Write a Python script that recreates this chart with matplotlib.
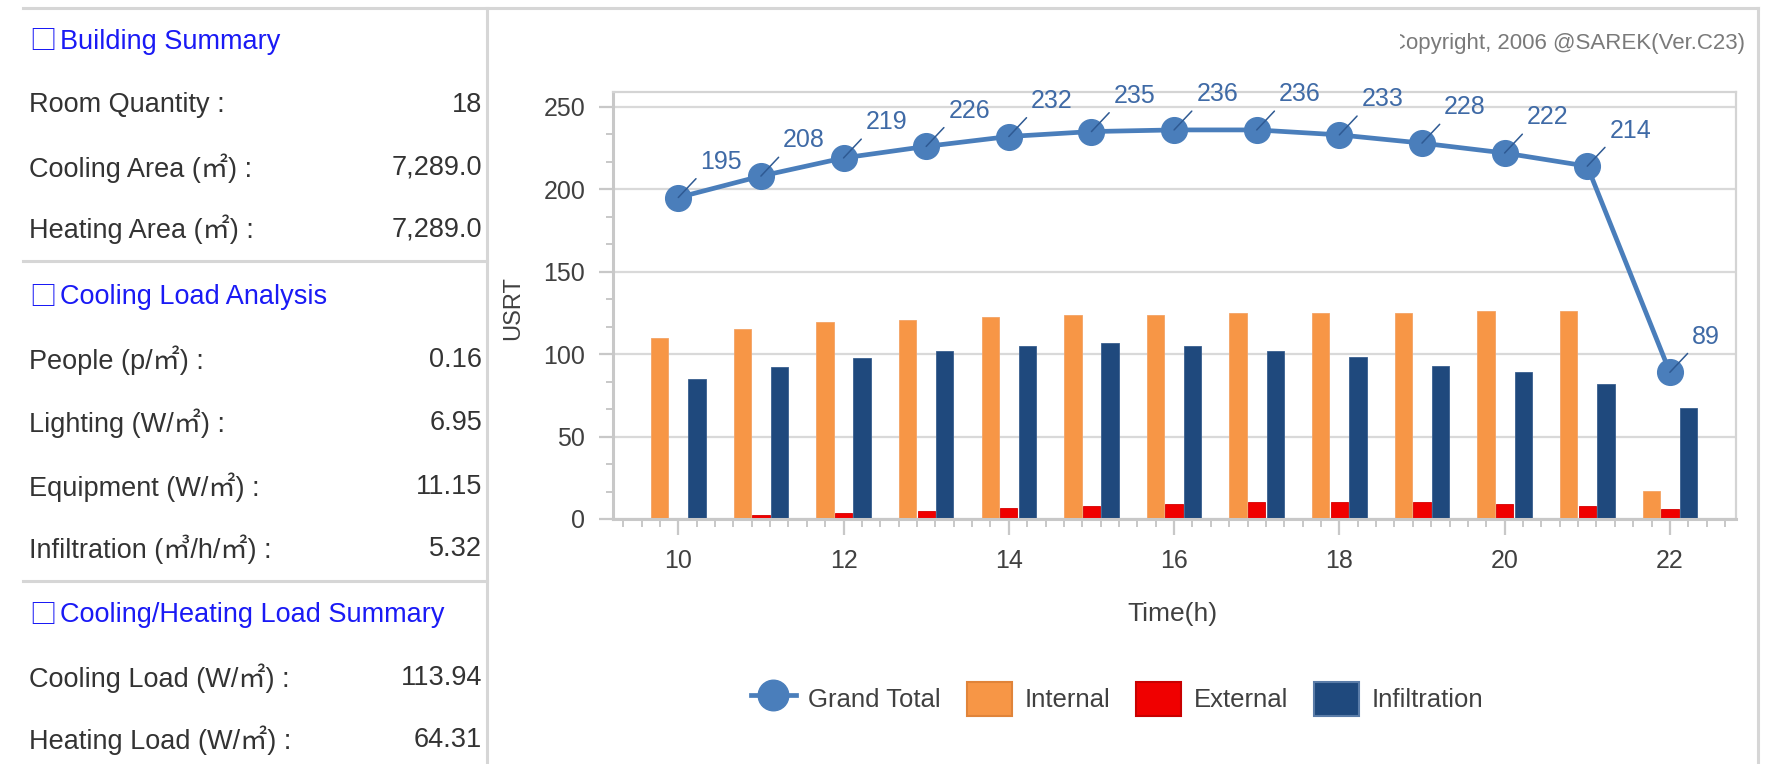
import matplotlib
matplotlib.use("Agg")
import matplotlib.pyplot as plt
from matplotlib.lines import Line2D
from matplotlib.patches import Patch
from matplotlib.ticker import MultipleLocator
from matplotlib.transforms import Bbox

# ---- hourly load data (USRT) ----
hours = [10, 11, 12, 13, 14, 15, 16, 17, 18, 19, 20, 21, 22]
grand_total = [195, 208, 219, 226, 232, 235, 236, 236, 233, 228, 222, 214, 89]
internal = [110, 115, 119.5, 121, 122.5, 123.5, 124, 125, 125, 125, 126, 126, 17]
external = [0.8, 2.2, 3.8, 5.1, 6.5, 7.7, 9.1, 10.5, 10.5, 10.5, 9.1, 7.7, 6.3]
infiltration = [85, 92, 97.5, 102, 105, 106.5, 105, 102, 98, 93, 89, 82, 67.5]
series_names = ["Grand Total", "Internal", "External", "Infiltration"]
y_ticks = [0, 50, 100, 150, 200, 250]
x_ticks = [10, 12, 14, 16, 18, 20, 22]

# ---- summary panel ----
section_titles = ["Building Summary", "Cooling Load Analysis",
                  "Cooling/Heating Load Summary"]
building_labels = ["Room Quantity :", "Cooling Area (㎡) :", "Heating Area (㎡) :"]
building_values = ["18", "7,289.0", "7,289.0"]
analysis_labels = ["People (p/㎡) :", "Lighting (W/㎡) :", "Equipment (W/㎡) :",
                   "Infiltration (㎥/h/㎡) :"]
analysis_values = ["0.16", "6.95", "11.15", "5.32"]
summary_labels = ["Cooling Load (W/㎡) :", "Heating Load (W/㎡) :"]
summary_values = ["113.94", "64.31"]
copyright_text = "Copyright, 2006 @SAREK(Ver.C23)"

C_LINE = "#4a7ebb"
C_LABEL = "#3f6aa6"
C_INTERNAL = "#f79646"
C_EXTERNAL = "#f00000"
C_INFIL = "#1f497d"
C_FRAME = "#d6d6d6"
C_AXIS = "#c8c8c8"
C_TEXT = "#404040"

W, H = 1767, 764
FONT = ["Liberation Sans", "Noto Sans CJK KR", "DejaVu Sans"]
plt.rcParams["font.family"] = FONT

fig = plt.figure(figsize=(W / 100, H / 100), dpi=100)
fig.patch.set_facecolor("white")


def fx(px):
    return px / W


def fy(py):
    return 1 - py / H


def hline(x0, x1, y, color=C_FRAME, lw=2.2):
    fig.add_artist(Line2D([fx(x0), fx(x1)], [fy(y), fy(y)],
                          transform=fig.transFigure, color=color, lw=lw))


def vline(x, y0, y1, color=C_FRAME, lw=2.2):
    fig.add_artist(Line2D([fx(x), fx(x)], [fy(y0), fy(y1)],
                          transform=fig.transFigure, color=color, lw=lw))


# ---- frames ----
hline(23, 1758, 8)
hline(23, 487, 261)
hline(23, 487, 581)
vline(487, 8, H)
vline(1758, 8, H)

# ---- summary panel text ----
HEAD_COLOR = "#1a1af5"
TXT_SIZE = 19.5


def section(title, y):
    fig.text(fx(29), fy(y), "□", ha="left", va="center", color=HEAD_COLOR,
             fontsize=TXT_SIZE, family=["Noto Sans CJK KR", "DejaVu Sans"])
    fig.text(fx(60), fy(y), title, ha="left", va="center", color=HEAD_COLOR,
             fontsize=TXT_SIZE)


def rows(labels, values, ys):
    for lab, val, y in zip(labels, values, ys):
        fig.text(fx(29), fy(y), lab, ha="left", va="center", color="#333333",
                 fontsize=TXT_SIZE)
        fig.text(fx(482), fy(y), val, ha="right", va="center", color="#333333",
                 fontsize=TXT_SIZE)


section(section_titles[0], 42)
rows(building_labels, building_values, [105, 168, 229])
section(section_titles[1], 297)
rows(analysis_labels, analysis_values, [360, 423, 487, 549])
section(section_titles[2], 615)
rows(summary_labels, summary_values, [678, 740])

# ---- copyright, partially cut at its left edge ----
ct = fig.text(fx(1745), fy(43), copyright_text, ha="right", va="center",
              color="#7a7a7a", fontsize=16)
ct.set_clip_box(Bbox.from_extents(1400, 0, W, H))
ct.set_clip_on(True)

# ---- chart ----
ax = fig.add_axes([fx(613), fy(519), fx(1736) - fx(613), fy(92) - fy(519)])
ax.set_xlim(9.21, 22.8)
ax.set_ylim(0, 259)

bw = 0.21
off = 0.225
ax.bar([h - off for h in hours], internal, width=bw, color=C_INTERNAL,
       edgecolor="#f4a366", lw=0.6, zorder=2)
ax.bar(hours, external, width=bw, color=C_EXTERNAL, edgecolor="#d40000",
       lw=0.6, zorder=2)
ax.bar([h + off for h in hours], infiltration, width=bw, color=C_INFIL,
       edgecolor="#3a5f8f", lw=0.6, zorder=2)

ax.plot(hours, grand_total, color=C_LINE, lw=3.4, marker="o", ms=18.5,
        mec=C_LINE, mfc=C_LINE, zorder=4)

for h, v in zip(hours, grand_total):
    ax.annotate(str(v), xy=(h, v), xytext=(16, 17), textcoords="offset points",
                ha="left", va="bottom", color=C_LABEL, fontsize=18, zorder=5,
                arrowprops=dict(arrowstyle="-", color="#2f5a93", lw=1.1,
                                shrinkA=2, shrinkB=0, relpos=(0, 0)))

ax.set_yticks(y_ticks)
ax.set_xticks(x_ticks)
ax.yaxis.set_minor_locator(MultipleLocator(50 / 3))
ax.xaxis.set_minor_locator(MultipleLocator(2 / 9))
ax.tick_params(axis="x", which="major", length=11.5, width=1.6, color=C_AXIS,
               labelsize=18, labelcolor=C_TEXT, pad=10)
ax.tick_params(axis="x", which="minor", length=5.8, width=1.4, color=C_AXIS)
ax.tick_params(axis="y", which="major", length=10, width=1.6, color=C_AXIS,
               labelsize=18, labelcolor=C_TEXT, pad=10)
ax.tick_params(axis="y", which="minor", length=5, width=1.4, color=C_AXIS)

ax.yaxis.grid(True, which="major", color="#d9d9d9", lw=1.6)
ax.set_axisbelow(True)
for side in ("left", "bottom"):
    ax.spines[side].set_color(C_AXIS)
    ax.spines[side].set_linewidth(2.2)
for side in ("top", "right"):
    ax.spines[side].set_color("#d4d4d4")
    ax.spines[side].set_linewidth(1.6)

fig.text(fx(513), fy(308), "USRT", rotation=90, ha="center", va="center",
         color=C_TEXT, fontsize=17)
fig.text(fx(1172), fy(614), "Time(h)", ha="center", va="center",
         color=C_TEXT, fontsize=19)

handles = [
    Line2D([], [], color=C_LINE, lw=3.4, marker="o", ms=22, mfc=C_LINE, mec=C_LINE),
    Patch(facecolor=C_INTERNAL, edgecolor="#e0843a", lw=1.5),
    Patch(facecolor=C_EXTERNAL, edgecolor="#c80000", lw=1.5),
    Patch(facecolor=C_INFIL, edgecolor="#5a7ca8", lw=1.5),
]
fig.legend(handles, series_names, loc="center", ncol=4, frameon=False,
           bbox_to_anchor=(fx(1117), fy(699)), fontsize=18.5, labelcolor=C_TEXT,
           handlelength=1.75, handleheight=1.6, handletextpad=0.5,
           columnspacing=1.0)

fig.savefig("out.png", dpi=100)
